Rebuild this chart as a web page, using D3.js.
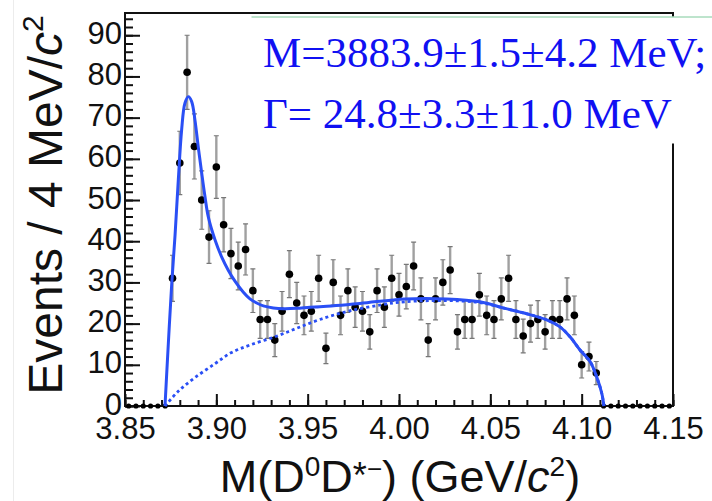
<!DOCTYPE html>
<html>
<head>
<meta charset="utf-8">
<script src="https://cdn.jsdelivr.net/npm/d3@7"></script>
<style>
  body { margin: 0; background: #fff; }
  svg { display: block; }
</style>
</head>
<body>
<div id="root"></div>
<script>
// Histogram: 4 MeV bins from 3.85 to 4.15 GeV
const binLow = 3.85;
const binWidth = 0.004;
const counts = [
  0, 0, 0, 0, 0, 0,
  31, 59, 81, 63, 50, 41, 58, 44, 37, 34,
  38, 28, 21, 21, 16, 23, 32, 25, 22, 23,
  31, 14, 30, 22, 28, 24, 23, 18, 28, 24,
  31, 27, 29, 34, 26, 16, 26, 30, 33, 18,
  21, 21, 27, 22, 21, 26, 31, 21, 17, 20,
  21, 18, 21, 21, 26, 22, 10, 12, 8,
  0, 0, 0, 0, 0, 0, 0, 0, 0, 0,
];
const errors = [
  0, 0, 0, 0, 0, 0,
  5.6, 7.7, 9.0, 7.9, 7.1, 6.4, 7.6, 6.6, 6.1, 5.8,
  6.2, 5.3, 4.6, 4.6, 4.0, 4.8, 5.7, 5.0, 4.7, 4.8,
  5.6, 3.7, 5.5, 4.7, 5.3, 4.9, 4.8, 4.2, 5.3, 4.9,
  5.6, 5.2, 5.4, 5.8, 5.1, 4.0, 5.1, 5.5, 5.7, 4.2,
  4.6, 4.6, 5.2, 4.7, 4.6, 5.1, 5.6, 4.6, 4.1, 4.5,
  4.6, 4.2, 4.6, 4.6, 5.1, 4.7, 3.2, 3.5, 2.8,
  0, 0, 0, 0, 0, 0, 0, 0, 0, 0,
];

// Total fit (solid)
const fitMass = [
  3.8719, 3.8737, 3.8756, 3.8774, 3.8792, 3.8810, 3.8828, 3.8847, 3.8865, 3.8883,
  3.8901, 3.8920, 3.8938, 3.8956, 3.8993, 3.9029, 3.9066, 3.9102, 3.9148, 3.9184,
  3.9221, 3.9257, 3.9312, 3.9367, 3.9440, 3.9513, 3.9567, 3.9786, 4.0033, 4.0261,
  4.0443, 4.0580, 4.0690, 4.0809, 4.0881, 4.0936, 4.0991, 4.1046, 4.1082, 4.1110,
  4.1122,
];
const fitTotal = [
  0, 15.0, 29.8, 41.5, 55.0, 67.0, 73.5, 75.1, 73.9, 69.4,
  62.9, 56.5, 50.8, 45.9, 40.3, 36.2, 32.9, 30.3, 27.6, 26.0,
  25.0, 24.3, 23.8, 23.6, 23.7, 24.0, 24.1, 24.9, 26.0, 26.0,
  25.3, 23.7, 22.5, 20.9, 19.2, 16.8, 13.6, 10.8, 7.1, 3.1,
  0,
];

// Background (dotted)
const bgMass = [
  3.8719, 3.8790, 3.8880, 3.8990, 3.9080, 3.9184, 3.9321, 3.9442, 3.9567, 3.9721,
  3.9907, 4.0033, 4.0261, 4.0443, 4.0580, 4.0690, 4.0809, 4.0881, 4.0936, 4.0991,
  4.1046, 4.1082, 4.1110, 4.1122,
];
const bgValue = [
  0, 3.5, 6.8, 10.2, 12.9, 14.8, 16.8, 18.9, 21.0, 23.0,
  24.6, 25.3, 25.6, 25.1, 23.7, 22.5, 20.9, 19.2, 16.8, 13.6,
  10.8, 7.1, 3.1, 0,
];

const xTicks = [3.85, 3.90, 3.95, 4.00, 4.05, 4.10, 4.15];
const yTicks = [0, 10, 20, 30, 40, 50, 60, 70, 80, 90];

const width = 712;
const height = 501;
const margin = { top: 13, right: 39, bottom: 95, left: 125 };
const axisFont = "'Liberation Sans', Arial, Helvetica, sans-serif";
const blue = "#2a4ff5";

const x = d3.scaleLinear()
  .domain([3.85, 4.15])
  .range([margin.left, width - margin.right]);
const y = d3.scaleLinear()
  .domain([0, 95.4])
  .range([height - margin.bottom, margin.top]);

const svg = d3.select("#root")
  .append("svg")
  .attr("width", width)
  .attr("height", height);

// faint slide edge on the left
svg.append("line")
  .attr("x1", 13.5).attr("x2", 13.5)
  .attr("y1", 0).attr("y2", height)
  .attr("stroke", "#ececec");

// Axes (ticks point inwards, like ROOT)
function styleAxis(g) {
  g.select(".domain").remove();
  g.selectAll(".tick line").attr("stroke", "#111").attr("stroke-width", 2);
  g.selectAll(".tick text")
    .attr("font-family", axisFont)
    .attr("font-size", 31)
    .attr("fill", "#111");
}

const xMinor = d3.range(0, 31).map((i) => 3.85 + i * 0.01);
const yMinor = d3.range(0, 48).map((i) => i * 2);

svg.append("g")
  .attr("transform", `translate(0,${y(0)})`)
  .call(d3.axisBottom(x).tickValues(xMinor).tickSize(-6).tickFormat(""))
  .call(styleAxis);
svg.append("g")
  .attr("transform", `translate(0,${y(0)})`)
  .call(d3.axisBottom(x).tickValues(xTicks).tickSize(-12).tickPadding(11)
    .tickFormat(d3.format(".2f")))
  .call(styleAxis);

svg.append("g")
  .attr("transform", `translate(${x(3.85)},0)`)
  .call(d3.axisLeft(y).tickValues(yMinor).tickSize(-8).tickFormat(""))
  .call(styleAxis);
svg.append("g")
  .attr("transform", `translate(${x(3.85)},0)`)
  .call(d3.axisLeft(y).tickValues(yTicks).tickSize(-15).tickPadding(3))
  .call(styleAxis)
  .call((g) => g.selectAll(".tick text").attr("dy", "0.26em"));

// frame
svg.append("rect")
  .attr("x", x(3.85))
  .attr("y", y.range()[1])
  .attr("width", x(4.15) - x(3.85))
  .attr("height", y(0) - y.range()[1])
  .attr("fill", "none")
  .attr("stroke", "#111")
  .attr("stroke-width", 2);

// Data points
const bins = counts.map((c, i) => ({
  m: binLow + binWidth * (i + 0.5),
  n: c,
  e: errors[i],
}));

const pts = svg.append("g");
pts.selectAll("line.err")
  .data(bins.filter((d) => d.e > 0))
  .enter()
  .append("line")
  .attr("class", "err")
  .attr("x1", (d) => x(d.m))
  .attr("x2", (d) => x(d.m))
  .attr("y1", (d) => y(d.n - d.e))
  .attr("y2", (d) => y(d.n + d.e))
  .attr("stroke", "#a0a0a0")
  .attr("stroke-width", 2.4);
pts.selectAll("path.cap")
  .data(bins.filter((d) => d.e > 0))
  .enter()
  .append("path")
  .attr("class", "cap")
  .attr("d", (d) => {
    const cx = x(d.m);
    return `M${cx - 2.5},${y(d.n - d.e)}H${cx + 2.5}M${cx - 2.5},${y(d.n + d.e)}H${cx + 2.5}`;
  })
  .attr("stroke", "#777")
  .attr("stroke-width", 1.2);
pts.selectAll("circle")
  .data(bins)
  .enter()
  .append("circle")
  .attr("cx", (d) => x(d.m))
  .attr("cy", (d) => y(d.n))
  .attr("r", (d) => (d.n > 0 ? 3.8 : 2.6))
  .attr("fill", "#000");

// Fit curves
const line = d3.line()
  .x((d) => x(d[0]))
  .y((d) => y(d[1]))
  .curve(d3.curveCatmullRom.alpha(0.5));

svg.append("path")
  .datum(bgMass.map((m, i) => [m, bgValue[i]]))
  .attr("d", line)
  .attr("fill", "none")
  .attr("stroke", blue)
  .attr("stroke-width", 2.8)
  .attr("stroke-dasharray", "3,3");

svg.append("path")
  .datum(fitMass.map((m, i) => [m, fitTotal[i]]))
  .attr("d", line)
  .attr("fill", "none")
  .attr("stroke", blue)
  .attr("stroke-width", 3);

// Result box pasted over the plot
svg.append("rect")
  .attr("x", 251.5)
  .attr("y", 16.5)
  .attr("width", width - 251.5)
  .attr("height", 127)
  .attr("fill", "#fff");
svg.append("line")
  .attr("x1", 251.5).attr("x2", width)
  .attr("y1", 17).attr("y2", 17)
  .attr("stroke", "#7cc99a")
  .attr("stroke-width", 1);

const boxLines = ["M=3883.9\u00b11.5\u00b14.2 MeV;", "\u0393= 24.8\u00b13.3\u00b111.0 MeV"];
svg.selectAll("text.result")
  .data(boxLines)
  .enter()
  .append("text")
  .attr("class", "result")
  .attr("x", 263)
  .attr("y", (d, i) => 67 + i * 61)
  .attr("font-family", "'Liberation Serif', 'Times New Roman', serif")
  .attr("font-size", 43)
  .attr("fill", "#1010f2")
  .text((d) => d);

// Axis titles
const yTitle = svg.append("text")
  .attr("transform", "translate(62,205) rotate(-90)")
  .attr("text-anchor", "middle")
  .attr("font-family", axisFont)
  .attr("font-size", 48)
  .attr("fill", "#111");
yTitle.append("tspan").text("Events / 4 MeV/");
yTitle.append("tspan").attr("font-style", "italic").text("c");
yTitle.append("tspan").attr("dy", -19).attr("font-size", 30).text("2");

const xTitle = svg.append("text")
  .attr("x", 400)
  .attr("y", 492)
  .attr("text-anchor", "middle")
  .attr("font-family", axisFont)
  .attr("font-size", 45)
  .attr("fill", "#111");
xTitle.append("tspan").text("M(D");
xTitle.append("tspan").attr("dy", -16).attr("font-size", 28).text("0");
xTitle.append("tspan").attr("dy", 16).text("D");
xTitle.append("tspan").attr("dy", -4).attr("font-size", 36).text("*");
xTitle.append("tspan").attr("dy", -10).attr("font-size", 26).text("\u2212");
xTitle.append("tspan").attr("dy", 14).text(") (GeV/");
xTitle.append("tspan").attr("font-style", "italic").text("c");
xTitle.append("tspan").attr("dy", -16).attr("font-size", 28).text("2");
xTitle.append("tspan").attr("dy", 16).text(")");
</script>
</body>
</html>
